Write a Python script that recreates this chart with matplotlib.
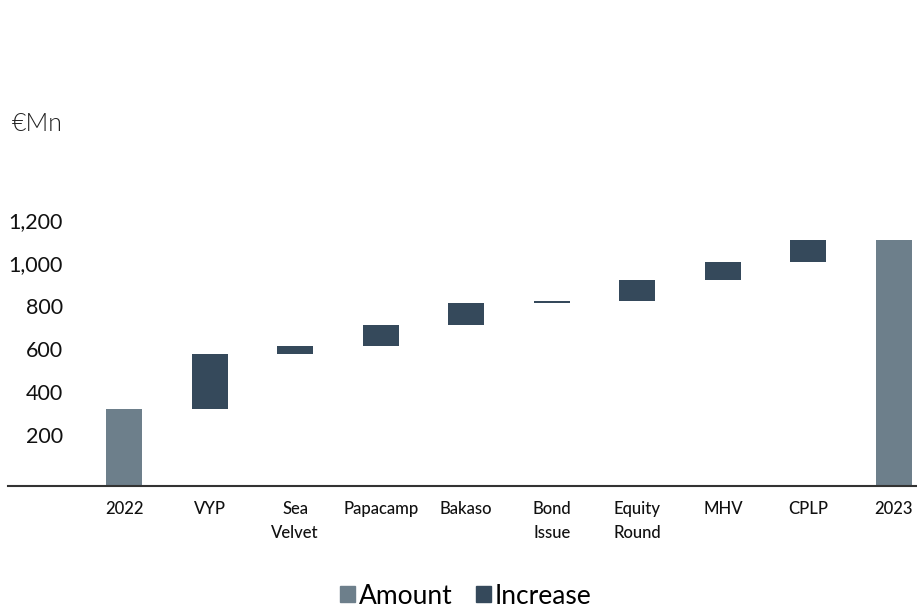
import matplotlib
matplotlib.use('Agg')
import matplotlib.pyplot as plt
from matplotlib.patches import Patch
from matplotlib.transforms import ScaledTranslation

plt.rcParams['font.family'] = ['Lato', 'DejaVu Sans']

# data
categories = ['2022', 'VYP', 'Sea\nVelvet', 'Papacamp', 'Bakaso', 'Bond\nIssue',
              'Equity\nRound', 'MHV', 'CPLP', '2023']
start_amount = 358
increases = [256, 37, 98, 102, 9, 98, 84, 102]
end_amount = 1144
yticks = [200, 400, 600, 800, 1000, 1200]

amount_color = '#6d7f8b'
increase_color = '#35495b'

fig = plt.figure(figsize=(9.17, 6.10), dpi=100)
ax = fig.add_axes([8/917, 124/610, 909/917, 280/610])

# waterfall bottoms
bottoms = []
run = start_amount
for inc in increases:
    bottoms.append(run)
    run += inc

w = 0.42
ax.bar(0, start_amount, width=w, color=amount_color)
ax.bar(range(1, len(increases) + 1), increases, bottom=bottoms, width=w, color=increase_color)
ax.bar(len(categories) - 1, end_amount, width=w, color=amount_color)

ax.set_xlim(-1.357, len(categories) - 1 + 0.27)
ax.set_ylim(0, 1302)

for s in ['top', 'right', 'left']:
    ax.spines[s].set_visible(False)
ax.spines['bottom'].set_color('#333333')
ax.spines['bottom'].set_linewidth(1.5)

ax.set_xticks(range(len(categories)))
ax.set_xticklabels(categories, fontsize=12, fontweight='medium', color='#111111',
                   linespacing=1.62, va='top')
ax.tick_params(axis='x', length=0, pad=10.5)

ax.set_yticks(yticks)
ax.set_yticklabels([f'{v:,}' for v in yticks], fontsize=15.5, color='#111111')
ax.tick_params(axis='y', length=0, pad=-39.6)
for lab in ax.get_yticklabels():
    lab.set_transform(lab.get_transform() + ScaledTranslation(0, 8/100, fig.dpi_scale_trans))

fig.text(12/917, 1 - 124/610, '€Mn', fontsize=18, fontweight=300, color='#222222',
         va='center', ha='left')

handles = [Patch(color=amount_color, label='Amount'), Patch(color=increase_color, label='Increase')]
fig.legend(handles=handles, loc='center', bbox_to_anchor=(466/917, 1 - 596/610), ncol=2,
           frameon=False, fontsize=19, handlelength=0.55, handleheight=0.55,
           handletextpad=0.15, columnspacing=0.9)

fig.savefig('out.png', dpi=100)
